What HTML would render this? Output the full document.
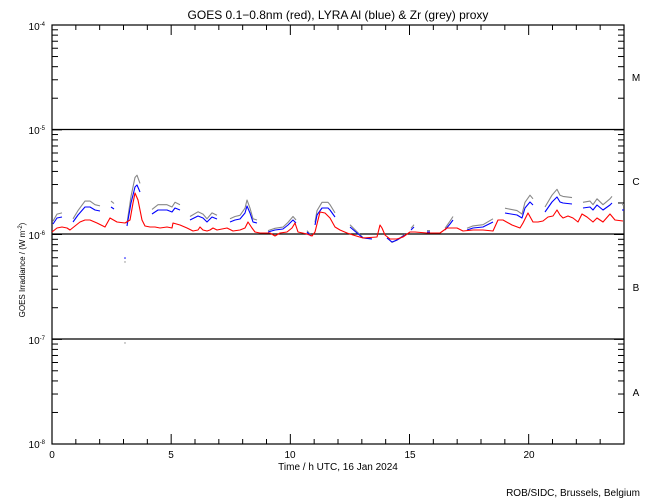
<!DOCTYPE html>
<html><head><meta charset="utf-8"><style>
html,body{margin:0;padding:0;background:#fff;}
svg{display:block;font-family:"Liberation Sans",sans-serif;}
</style></head><body>
<svg id="s" width="650" height="500" viewBox="0 0 650 500" xmlns="http://www.w3.org/2000/svg">
<rect width="650" height="500" fill="#fff"/>
<text x="338" y="19" font-size="12" text-anchor="middle">GOES 0.1−0.8nm (red), LYRA Al (blue) &amp; Zr (grey) proxy</text>
<g stroke="#000" stroke-width="1.3">
<line x1="52" y1="129.5" x2="624" y2="129.5"/>
<line x1="52" y1="234" x2="624" y2="234"/>
<line x1="52" y1="339" x2="624" y2="339"/>
</g>
<rect x="52" y="25" width="572" height="419" fill="none" stroke="#000" stroke-width="1.2"/>
<g id="ticks" stroke="#000" stroke-width="1"></g>
<g font-size="10" text-anchor="end">
<text x="45" y="30">10<tspan dy="-4" font-size="6">-4</tspan></text>
<text x="45" y="134">10<tspan dy="-4" font-size="6">-5</tspan></text>
<text x="45" y="239">10<tspan dy="-4" font-size="6">-6</tspan></text>
<text x="45" y="344">10<tspan dy="-4" font-size="6">-7</tspan></text>
<text x="45" y="448">10<tspan dy="-4" font-size="6">-8</tspan></text>
</g>
<g font-size="10" text-anchor="middle">
<text x="636" y="81">M</text><text x="636" y="185">C</text><text x="636" y="291">B</text><text x="636" y="396">A</text>
<text x="52" y="458">0</text><text x="171" y="458">5</text><text x="290" y="458">10</text><text x="410" y="458">15</text><text x="529" y="458">20</text>
<text x="338" y="470">Time / h UTC, 16 Jan 2024</text>
</g>
<text x="640" y="496" font-size="10" text-anchor="end">ROB/SIDC, Brussels, Belgium</text>
<text transform="translate(25,270) rotate(-90)" font-size="8" text-anchor="middle">GOES Irradiance / (W m<tspan dy="-3" font-size="6">-2</tspan><tspan dy="3">)</tspan></text>
<g id="data" fill="none" stroke-width="1.1" stroke-linejoin="round"></g>
<circle cx="125" cy="343" r="0.7" fill="#888"/>
<circle cx="125" cy="258" r="0.8" fill="#00f"/>
<circle cx="125" cy="262" r="0.7" fill="#888"/>
</svg>
<script>
var NS="http://www.w3.org/2000/svg";
var t=document.getElementById("ticks");
function ln(x1,y1,x2,y2){var l=document.createElementNS(NS,"line");l.setAttribute("x1",x1);l.setAttribute("y1",y1);l.setAttribute("x2",x2);l.setAttribute("y2",y2);t.appendChild(l);}
var dec=104.75;
for(var d=0;d<4;d++){var base=444-d*dec;
 for(var k=1;k<=10;k++){var y=base-Math.log10(k)*dec;var L=(k==1||k==10)?10:6;
  ln(52,y,52+L,y);ln(624,y,624-L,y);}}
for(var h=0;h<=24;h++){var x=52+h*572/24;var L=(h%5==0)?10:5;ln(x,25,x,25+L);ln(x,444,x,444-L);}
var red=[[52,232],[57,228],[62,227],[67,228],[70,230],[75,226],[80,222],[85,220],[90,220],[97,223],[105,227],[110,218],[117,222],[125,223],[130,220],[133,203],[135,193],[138,200],[142,220],[145,226],[150,227],[155,227],[160,228],[167,227],[172,228],[173,223],[180,225],[187,228],[193,231],[198,230],[200,227],[203,230],[207,231],[210,230],[213,228],[217,230],[227,228],[233,231],[240,230],[245,228],[248,222],[252,228],[255,232],[260,233],[270,233],[275,236],[280,233],[287,232],[292,228],[295,223],[298,232],[307,234],[312,236],[315,232],[320,212],[325,213],[330,218],[335,227],[340,230],[347,233],[353,235],[363,238],[377,237],[380,225],[382,228],[385,235],[390,239],[397,239],[403,237],[410,232],[415,232],[427,233],[440,233],[447,228],[457,228],[463,231],[473,230],[483,230],[493,231],[498,220],[503,220],[512,225],[520,228],[523,223],[528,213],[533,222],[538,222],[543,221],[548,217],[553,216],[557,210],[560,215],[563,218],[568,216],[573,218],[578,222],[582,214],[587,217],[593,222],[597,218],[603,222],[610,214],[615,220],[623,221]];
var blue=[
[[53,224],[57,218],[62,217]],
[[73,222],[78,215],[85,207],[90,207],[95,210],[100,211]],
[[111,207],[114,209]],
[[127,226],[128,220],[131,203],[135,187],[137,185],[140,192]],
[[152,214],[158,210],[167,210],[172,212],[175,208],[180,210]],
[[190,220],[198,216],[203,218],[207,222],[212,217],[217,219]],
[[230,222],[235,220],[240,219],[245,213],[247,206],[250,213],[253,222],[257,223]],
[[268,232],[275,230],[283,229],[288,225],[293,220],[296,223]],
[[307,232],[311,236]],
[[315,225],[317,215],[322,208],[328,208],[330,210],[335,217]],
[[350,227],[357,233],[363,238],[372,239]],
[[387,238],[392,242],[397,240],[402,237],[405,235]],
[[411,230],[414,227]],
[[427,232],[430,232]],
[[445,230],[450,224],[453,220]],
[[467,230],[473,228],[483,227],[493,222]],
[[505,213],[517,215],[522,218],[525,208],[530,202],[533,205]],
[[545,212],[552,202],[557,197],[560,202],[563,203],[572,204]],
[[583,208],[590,207],[593,210],[597,205],[603,210],[610,205],[612,203]],
[[622,210],[624,210]]];
var g=document.getElementById("data");
function pl(pts,c){var p=document.createElementNS(NS,"polyline");p.setAttribute("points",pts.map(function(a){return a[0]+","+a[1].toFixed(1)}).join(" "));p.setAttribute("stroke",c);g.appendChild(p);}
blue.forEach(function(s){pl(s.map(function(a){return [a[0],234+(a[1]-234)*1.18-1]}),"#888");});
blue.forEach(function(s){pl(s,"#0000ff");});
pl(red,"#ff0000");
</script>
</body></html>
